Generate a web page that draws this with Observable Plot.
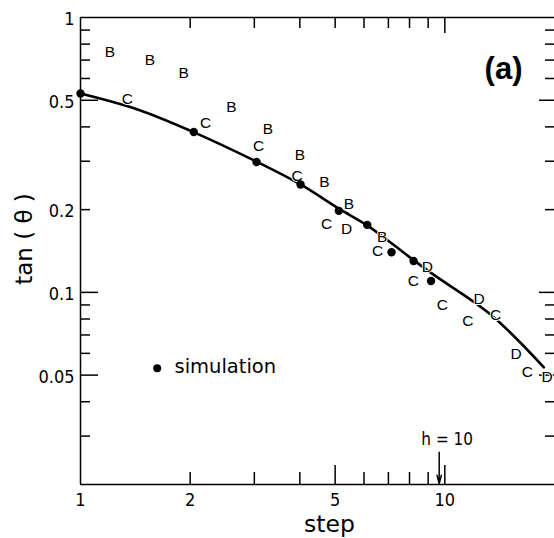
<!DOCTYPE html>
<html><head><meta charset="utf-8">
<script src="https://cdn.jsdelivr.net/npm/d3@7"></script>
<script src="https://cdn.jsdelivr.net/npm/@observablehq/plot@0.6"></script>
<style>
body{margin:0;background:#fff}
#chart svg{display:block}
#chart svg text{paint-order:stroke}
</style>
</head><body><div id="chart"></div>
<script>
// simulation points (filled circles)
const simStep = [1.0, 2.046, 3.042, 4.018, 5.117, 6.124, 7.14, 8.207, 9.165];
const simTan  = [0.529, 0.383, 0.298, 0.247, 0.198, 0.176, 0.140, 0.130, 0.110];
// solid curve
const curveStep = [1.0, 1.434, 2.043, 3.042, 4.018, 5.108, 6.135, 7.185, 8.207, 9.311, 13.35, 18.70];
const curveTan  = [0.529, 0.463, 0.383, 0.299, 0.247, 0.202, 0.175, 0.150, 0.131, 0.116, 0.0831, 0.0534];
// letter series B, C, D
const bStep = [1.205, 1.550, 1.921, 2.597, 3.271, 3.999, 4.675, 5.452, 6.733];
const bTan  = [0.746, 0.702, 0.629, 0.472, 0.392, 0.317, 0.252, 0.210, 0.159];
const cStep = [1.344, 2.203, 3.081, 3.934, 4.735, 6.536, 8.192, 9.837, 11.56, 13.78, 16.84];
const cTan  = [0.506, 0.414, 0.341, 0.264, 0.177, 0.141, 0.110, 0.0896, 0.0784, 0.0829, 0.0513];
const dStep = [5.373, 8.947, 12.41, 15.70, 19.10];
const dTan  = [0.170, 0.124, 0.0944, 0.0598, 0.0491];
// axis ticks
const xTickLabels = [1, 2, 5, 10];
const xMinorTicks = [2, 3, 4, 6, 7, 8, 9];
const xMajorTicks = [5, 10];
const xTopMinor = [2, 3, 4, 5, 6, 7, 8, 9];
const xTopMajor = [10];
const yTickLabels = [1, 0.5, 0.2, 0.1, 0.05];
const yMinorTicks = [0.9, 0.8, 0.7, 0.6, 0.4, 0.3, 0.2, 0.09, 0.08, 0.07, 0.06, 0.04, 0.03];
const yMajorTicks = [0.5, 0.1, 0.05];
// annotation h = 10
const hStep = [9.65];
const hArrowTop = [0.0262];
const hArrowBottom = [0.0201];
const hLabelTan = [0.0291];

const zipXY = (xs, ys) => xs.map((x, i) => ({x, y: ys[i]}));
const sim = zipXY(simStep, simTan);
const curve = zipXY(curveStep, curveTan);
const bData = zipXY(bStep, bTan);
const cData = zipXY(cStep, cTan);
const dData = zipXY(dStep, dTan);
const hData = hStep.map((x, i) => ({x, y1: hArrowTop[i], y2: hArrowBottom[i], yl: hLabelTan[i]}));

const tickFont = "DejaVu Sans Condensed";
const letterStyle = {x: "x", y: "y", fontSize: 15.5, fontFamily: "Liberation Sans", fill: "black", stroke: "white", strokeWidth: 2};

const chart = Plot.plot({
  width: 554, height: 538,
  marginTop: 17, marginBottom: 54, marginLeft: 80, marginRight: 0,
  x: {type: "log", domain: [1, 20], axis: null},
  y: {type: "log", domain: [0.02, 1], axis: null},
  style: {background: "white", color: "black", overflow: "visible"},
  marks: [
    // frame lines (left, bottom, top)
    Plot.ruleX([1], {strokeWidth: 1.5}),
    Plot.ruleY([1, 0.02], {strokeWidth: 1.5}),
    // inward ticks
    Plot.axisY(yMinorTicks, {anchor: "left", tickSize: -10, fill: "none", strokeWidth: 1.5, label: null}),
    Plot.axisY(yMajorTicks, {anchor: "left", tickSize: -18, fill: "none", strokeWidth: 1.5, label: null}),
    Plot.axisY(yMinorTicks, {anchor: "right", tickSize: -10, fill: "none", strokeWidth: 1.5, label: null}),
    Plot.axisY(yMajorTicks, {anchor: "right", tickSize: -16, fill: "none", strokeWidth: 1.5, label: null}),
    Plot.axisX(xMinorTicks, {anchor: "bottom", tickSize: -12, fill: "none", strokeWidth: 1.5, label: null}),
    Plot.axisX(xMajorTicks, {anchor: "bottom", tickSize: -19, fill: "none", strokeWidth: 1.5, label: null}),
    Plot.axisX(xTopMinor, {anchor: "top", tickSize: -10, fill: "none", strokeWidth: 1.5, label: null}),
    Plot.axisX(xTopMajor, {anchor: "top", tickSize: -15, fill: "none", strokeWidth: 1.5, label: null}),
    // tick labels
    Plot.axisY(yTickLabels, {anchor: "left", tickSize: 0, tickPadding: 6, dy: 2, tickFormat: d => String(d), fontSize: 18, fontFamily: tickFont, label: null}),
    Plot.axisX(xTickLabels, {anchor: "bottom", tickSize: 0, tickPadding: 9, tickFormat: d => String(d), fontSize: 18, fontFamily: tickFont, label: null}),
    // axis titles
    Plot.text(["step"], {frameAnchor: "bottom", lineAnchor: "middle", textAnchor: "middle", dx: 12, dy: 39.5, fontSize: 23.5, fontFamily: "DejaVu Sans"}),
    Plot.text(["tan ( θ )"], {frameAnchor: "left", lineAnchor: "middle", textAnchor: "middle", rotate: -90, dx: -56, dy: -12, fontSize: 23, fontFamily: "DejaVu Sans"}),
    // panel label
    Plot.text(["(a)"], {frameAnchor: "top-right", lineAnchor: "middle", textAnchor: "end", dx: -32, dy: 52, fontSize: 31, fontWeight: "bold", fontFamily: "Liberation Sans"}),
    // curve
    Plot.line(curve, {x: "x", y: "y", curve: "catmull-rom", strokeWidth: 2.6, stroke: "black"}),
    // letters
    Plot.text(bData, {...letterStyle, text: () => "B"}),
    Plot.text(cData, {...letterStyle, text: () => "C"}),
    Plot.text(dData, {...letterStyle, text: () => "D"}),
    // simulation dots
    Plot.dot(sim, {x: "x", y: "y", r: 4.2, fill: "black", stroke: "none"}),
    // legend
    Plot.dot([0], {frameAnchor: "top-left", dx: 76.7, dy: 350.7, r: 4, fill: "black", stroke: "none"}),
    Plot.text(["simulation"], {frameAnchor: "top-left", lineAnchor: "middle", textAnchor: "start", dx: 94, dy: 349.5, fontSize: 19.5, fontFamily: "DejaVu Sans"}),
    // h = 10 annotation
    Plot.arrow(hData, {x: "x", y1: "y1", y2: "y2", headLength: 9, headAngle: 28, strokeWidth: 1.5, stroke: "black"}),
    Plot.text(hData, {x: "x", y: "yl", dx: 8, text: () => "h = 10", fontSize: 17, fontFamily: tickFont})
  ]
});
document.getElementById("chart").appendChild(chart);
</script>
</body></html>
